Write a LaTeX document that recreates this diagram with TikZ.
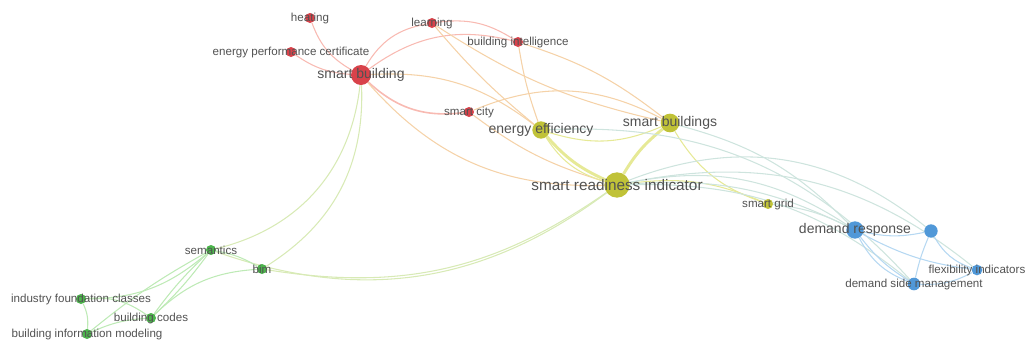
\documentclass[tikz,border=0pt]{standalone}
\usepackage{fontspec}
\setmainfont{Liberation Sans}
\usetikzlibrary{backgrounds}

\definecolor{kwred}{RGB}{216,66,74}
\definecolor{kwyellow}{RGB}{192,194,56}
\definecolor{kwgreen}{RGB}{76,180,76}
\definecolor{kwblue}{RGB}{80,152,216}
\definecolor{lnred}{RGB}{248,186,178}
\definecolor{lnorange}{RGB}{245,210,168}
\definecolor{lnyellow}{RGB}{230,233,150}
\definecolor{lngreen}{RGB}{190,234,182}
\definecolor{lnblue}{RGB}{182,216,242}
\definecolor{lnlime}{RGB}{216,234,182}
\definecolor{lnteal}{RGB}{206,228,222}
\definecolor{txtgrey}{RGB}{82,82,82}

\tikzset{
  kw/.style={circle, inner sep=0pt, draw=none},
  rednode/.style={kw, fill=kwred, minimum size=#1},
  yelnode/.style={kw, fill=kwyellow, minimum size=#1},
  grnnode/.style={kw, fill=kwgreen, minimum size=#1},
  blunode/.style={kw, fill=kwblue, minimum size=#1},
  lbl/.style={text=txtgrey, inner sep=0pt, font=\fontsize{8.7}{10}\selectfont},
  lblmid/.style={lbl, font=\fontsize{10.5}{12}\selectfont},
  lblbig/.style={lbl, font=\fontsize{11.5}{14}\selectfont},
  link/.style={line width=0.8pt}
}

\begin{document}
\begin{tikzpicture}[x=0.75pt, y=-0.75pt]
  \useasboundingbox (0,0) rectangle (1032,347);

  % Red cluster
  \node[rednode=15pt, label={[lblmid]center:smart building}] (sb) at (361,75) {};
  \node[rednode=7.5pt, label={[lbl]center:heating}] (heat) at (310,18) {};
  \node[rednode=7.5pt, label={[lbl]center:learning}] (learn) at (432,23) {};
  \node[rednode=7.5pt, label={[lbl]center:building intelligence}] (bi) at (518,42) {};
  \node[rednode=7.5pt, label={[lbl]center:energy performance certificate}] (epc) at (291,52) {};
  \node[rednode=7.5pt, label={[lbl]center:smart city}] (city) at (469,112) {};

  % Yellow cluster
  \node[yelnode=19pt, label={[lblbig]center:smart readiness indicator}] (sri) at (617,185) {};
  \node[yelnode=14pt, label={[lblmid]center:smart buildings}] (sbs) at (670,123) {};
  \node[yelnode=13pt, label={[lblmid]center:energy efficiency}] (ee) at (541,130) {};
  \node[yelnode=7.5pt, label={[lbl]center:smart grid}] (grid) at (768,204) {};

  % Blue cluster
  \node[blunode=13pt, label={[lblmid]center:demand response}] (dr) at (855,230) {};
  \node[blunode=10pt] (unl) at (931,231) {};
  \node[blunode=9.5pt, label={[lbl]center:demand side management}] (dsm) at (914,284) {};
  \node[blunode=8pt, label={[lbl]center:flexibility indicators}] (flex) at (977,270) {};

  % Green cluster
  \node[grnnode=7.5pt, label={[lbl]center:semantics}] (sem) at (211,250) {};
  \node[grnnode=7.5pt, label={[lbl]center:bim}] (bim) at (262,269) {};
  \node[grnnode=7.5pt, label={[lbl]center:industry foundation classes}] (ifc) at (81,299) {};
  \node[grnnode=7.5pt, label={[lbl]center:building codes}] (codes) at (151,318) {};
  \node[grnnode=7.5pt, label={[lbl]center:building information modeling}] (bimod) at (87,334) {};

  \begin{scope}[on background layer]
    % Links inside red cluster
    \draw[link, lnred] (sb) to[bend left=20] (heat);
    \draw[link, lnred] (sb) to[bend left=15] (epc);
    \draw[link, lnred] (sb) to[bend left=25] (learn);
    \draw[link, lnred] (sb) to[bend left=25] (bi);
    \draw[link, lnred, line width=1.2pt] (sb) to[bend right=25] (city);
    \draw[link, lnred] (learn) to[bend left=20] (bi);

    % Links from red to yellow
    \draw[link, lnorange] (sb) to[bend left=20] (ee);
    \draw[link, lnorange] (sb) to[bend right=25] (sri);
    \draw[link, lnorange] (learn) to[bend right=10] (sbs);
    \draw[link, lnorange] (learn) to[bend right=5] (ee);
    \draw[link, lnorange] (bi) to[bend right=5] (ee);
    \draw[link, lnorange] (bi) to[bend left=10] (sbs);
    \draw[link, lnorange] (city) to[bend left=25] (sbs);
    \draw[link, lnorange] (city) to[bend right=10] (sri);

    % Links inside yellow cluster
    \draw[link, lnyellow] (ee) to[bend right=20] (sbs);
    \draw[link, lnyellow, line width=2.2pt] (ee) to[bend right=12] (sri);
    \draw[link, lnyellow] (ee) to[bend right=20] (sri);
    \draw[link, lnyellow, line width=2.2pt] (sbs) to[bend right=10] (sri);
    \draw[link, lnyellow] (sbs) to[bend right=20] (grid);
    \draw[link, lnyellow] (sri) to[bend left=15] (grid);

    % Links from yellow to blue
    \draw[link, lnteal] (sbs) to[bend left=15] (dr);
    \draw[link, lnteal] (sri) to[bend left=15] (dr);
    \draw[link, lnteal] (sri) to[bend left=22] (dr);
    \draw[link, lnteal] (sri) to[bend left=30] (unl);
    \draw[link, lnteal] (sri) to[bend left=25] (flex);
    \draw[link, lnteal] (sri) to[bend left=20] (dsm);
    \draw[link, lnteal] (grid) to[bend left=10] (dr);
    \draw[link, lnteal] (ee) to[bend left=25] (dsm);

    % Links inside blue cluster
    \draw[link, lnblue] (dr) to[bend right=12] (unl);
    \draw[link, lnblue] (dr) to[bend right=10] (dsm);
    \draw[link, lnblue] (dr) to[bend right=20] (dsm);
    \draw[link, lnblue] (dr) to[bend right=10] (flex);
    \draw[link, lnblue] (unl) to[bend right=5] (dsm);
    \draw[link, lnblue] (unl) to[bend right=20] (flex);
    \draw[link, lnblue] (dsm) to[bend right=15] (flex);

    % Links from green to red and yellow
    \draw[link, lnlime] (sb) to[bend left=35] (sem);
    \draw[link, lnlime] (sb) to[bend left=30] (bim);
    \draw[link, lnlime] (sri) to[bend left=28] (sem);
    \draw[link, lnlime] (sri) to[bend left=22] (bim);

    % Links inside green cluster
    \draw[link, lngreen] (sem) to[bend left=10] (bim);
    \draw[link, lngreen] (sem) to[bend left=20] (ifc);
    \draw[link, lngreen] (sem) to[bend left=5] (codes);
    \draw[link, lngreen] (sem) to[bend right=5] (codes);
    \draw[link, lngreen] (sem) to[bend right=5] (bimod);
    \draw[link, lngreen] (bim) to[bend right=20] (codes);
    \draw[link, lngreen] (ifc) to[bend left=20] (codes);
    \draw[link, lngreen] (ifc) to[bend left=15] (bimod);
    \draw[link, lngreen] (codes) to[bend right=10] (bimod);
  \end{scope}
\end{tikzpicture}
\end{document}
